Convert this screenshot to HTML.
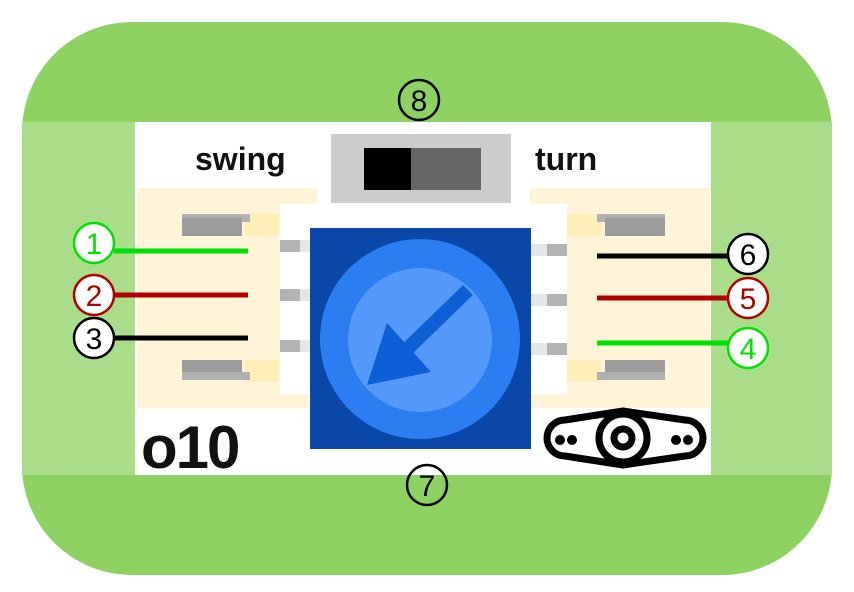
<!DOCTYPE html><html><head><style>body{margin:0;background:#fff}svg{display:block}</style></head><body>
<svg width="854" height="592" viewBox="0 0 854 592" xmlns="http://www.w3.org/2000/svg" font-family="Liberation Sans, sans-serif">
<rect x="22" y="22" width="810" height="553" rx="110" fill="#8dd162"/>
<rect x="22" y="122" width="810" height="353" fill="#a9dd8a"/>
<rect x="135" y="122" width="576" height="353" fill="#fff"/>
<rect x="137" y="188" width="180" height="220" fill="#fff4d8"/>
<rect x="280" y="204" width="37" height="190" fill="#fff"/>
<rect x="530" y="188" width="180" height="220" fill="#fff4d8"/>
<rect x="530" y="204" width="37" height="190" fill="#fff"/>
<rect x="245" y="214" width="34" height="22" fill="#ffeeb8"/><rect x="182" y="214" width="68" height="8" fill="#b0b0b0"/><rect x="182" y="218" width="60" height="18" fill="#9c9c9c"/>
<rect x="245" y="360" width="34" height="22" fill="#ffeeb8"/><rect x="182" y="360" width="60" height="18" fill="#9c9c9c"/><rect x="182" y="372" width="68" height="8" fill="#b0b0b0"/>
<rect x="567" y="214" width="34" height="22" fill="#ffeeb8"/><rect x="597" y="214" width="68" height="8" fill="#b0b0b0"/><rect x="605" y="218" width="60" height="18" fill="#9c9c9c"/>
<rect x="567" y="360" width="34" height="22" fill="#ffeeb8"/><rect x="605" y="360" width="60" height="18" fill="#9c9c9c"/><rect x="597" y="372" width="68" height="8" fill="#b0b0b0"/>
<g fill="#b3b3b3"><rect x="280" y="240" width="20" height="12"/><rect x="280" y="289" width="20" height="12"/><rect x="280" y="340" width="20" height="12"/>
<rect x="547" y="244" width="20" height="12"/><rect x="547" y="294" width="20" height="12"/><rect x="547" y="343" width="20" height="12"/></g>
<g fill="#e6e6e6"><rect x="300" y="240" width="11" height="12"/><rect x="300" y="289" width="11" height="12"/><rect x="300" y="340" width="11" height="12"/>
<rect x="531" y="244" width="16" height="12"/><rect x="531" y="294" width="16" height="12"/><rect x="531" y="343" width="16" height="12"/></g>
<rect x="310" y="228" width="221" height="221" fill="#0a47a8"/>
<circle cx="420" cy="339" r="100" fill="#2c7cf2"/>
<circle cx="420" cy="340" r="72" fill="#5598fb"/>
<line x1="468" y1="290" x2="400" y2="356" stroke="#0d5fd6" stroke-width="14"/>
<polygon points="367,385 387,323 431,372" fill="#0d5fd6"/>
<rect x="331" y="134" width="180" height="69" fill="#cccccc"/>
<rect x="364" y="148" width="47" height="42" fill="#000"/><rect x="411" y="148" width="70" height="42" fill="#666"/>
<g font-weight="bold" fill="#111"><text x="195" y="170" font-size="32">swing</text><text x="535" y="170" font-size="32">turn</text><text x="141" y="468" font-size="60" letter-spacing="-2">o10</text></g>
<path d="M565,420 L623,411 L685,420 A18,18 0 0 1 685,456 L623,465 L565,456 A18,18 0 0 1 565,420 Z" fill="#fff" stroke="#000" stroke-width="7" stroke-linejoin="round"/>
<circle cx="623" cy="438" r="24" fill="#fff" stroke="#000" stroke-width="7"/>
<circle cx="623" cy="438" r="9" fill="none" stroke="#000" stroke-width="7"/>
<g fill="#000"><circle cx="560" cy="440" r="5"/><circle cx="572" cy="440" r="5"/><circle cx="676" cy="440" r="5"/><circle cx="688" cy="440" r="5"/></g>
<g stroke-width="5"><line x1="114" y1="251" x2="248" y2="251" stroke="#00e000"/><line x1="114" y1="295" x2="248" y2="295" stroke="#b00000"/><line x1="114" y1="338" x2="248" y2="338" stroke="#000"/>
<line x1="597" y1="256" x2="730" y2="256" stroke="#000"/><line x1="597" y1="298" x2="730" y2="298" stroke="#b00000"/><line x1="597" y1="343" x2="730" y2="343" stroke="#00e000"/></g>
<g stroke-width="2.5" font-size="30" text-anchor="middle">
<circle cx="94" cy="243" r="20" fill="#fff" stroke="#00e000"/><text x="94" y="254" fill="#00e000">1</text>
<circle cx="94" cy="295" r="20" fill="#fff" stroke="#b00000"/><text x="94" y="306" fill="#b00000">2</text>
<circle cx="94" cy="338" r="20" fill="#fff" stroke="#000"/><text x="94" y="349">3</text>
<circle cx="748" cy="254" r="20" fill="#fff" stroke="#000"/><text x="748" y="265">6</text>
<circle cx="748" cy="298" r="20" fill="#fff" stroke="#b00000"/><text x="748" y="309" fill="#b00000">5</text>
<circle cx="748" cy="348" r="20" fill="#fff" stroke="#00e000"/><text x="748" y="359" fill="#00e000">4</text>
<circle cx="419" cy="100" r="20" fill="none" stroke="#000"/><text x="419" y="111">8</text>
<circle cx="427" cy="485" r="20" fill="none" stroke="#000"/><text x="427" y="496">7</text>
</g>
</svg></body></html>
